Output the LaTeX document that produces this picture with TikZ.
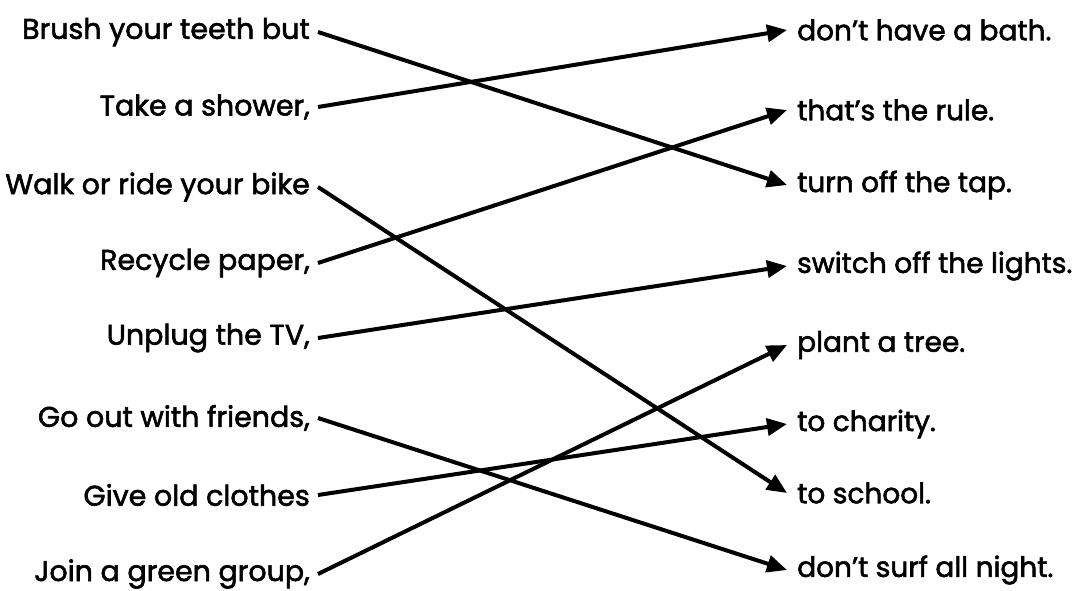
\documentclass[tikz,border=0pt]{standalone}
\usepackage{fontspec}
\setmainfont{Poppins}[FakeBold=2]
\usetikzlibrary{arrows.meta}
\tikzset{
	lhs/.style={anchor=east,inner xsep=8pt,inner ysep=0pt,font=\fontsize{28.5}{33}\selectfont},
	rhs/.style={anchor=west,inner xsep=10pt,inner ysep=0pt,font=\fontsize{28}{33}\selectfont},
	match/.style={line width=4pt,-{Triangle[length=20pt,width=17pt]}}
}
\begin{document}
\begin{tikzpicture}[x=1pt,y=-1pt]
	\useasboundingbox (0,0) rectangle (1078,590);
	\node[lhs] (l1) at (318,32) {Brush your teeth but};
	\node[lhs] (l2) at (318,107) {Take a shower,};
	\node[lhs] (l3) at (318,187) {Walk or ride your bike};
	\node[lhs] (l4) at (318,263) {Recycle paper,};
	\node[lhs] (l5) at (318,338) {Unplug the TV,};
	\node[lhs] (l6) at (318,418) {Go out with friends,};
	\node[lhs] (l7) at (318,495) {Give old clothes};
	\node[lhs] (l8) at (318,574) {Join a green group,};
	\node[rhs] (r1) at (787,30) {don’t have a bath.};
	\node[rhs] (r2) at (787,110) {that’s the rule.};
	\node[rhs] (r3) at (787,185) {turn off the tap.};
	\node[rhs] (r4) at (787,266) {switch off the lights.};
	\node[rhs] (r5) at (787,345) {plant a tree.};
	\node[rhs] (r6) at (787,424) {to charity.};
	\node[rhs] (r7) at (787,493) {to school.};
	\node[rhs] (r8) at (787,570) {don’t surf all night.};
	\draw[match] (l1.east) -- (r3.west);
	\draw[match] (l2.east) -- (r1.west);
	\draw[match] (l3.east) -- (r7.west);
	\draw[match] (l4.east) -- (r2.west);
	\draw[match] (l5.east) -- (r4.west);
	\draw[match] (l6.east) -- (r8.west);
	\draw[match] (l7.east) -- (r6.west);
	\draw[match] (l8.east) -- (r5.west);
\end{tikzpicture}
\end{document}
